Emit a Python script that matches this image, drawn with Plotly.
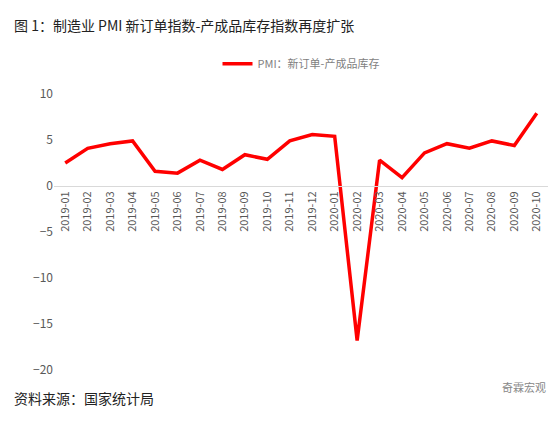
import plotly.graph_objects as go

months = ["2019-01", "2019-02", "2019-03", "2019-04", "2019-05", "2019-06", "2019-07", "2019-08",
          "2019-09", "2019-10", "2019-11", "2019-12", "2020-01", "2020-02", "2020-03", "2020-04",
          "2020-05", "2020-06", "2020-07", "2020-08", "2020-09", "2020-10"]
spread = [2.5, 4.1, 4.6, 4.9, 1.6, 1.4, 2.8, 1.8, 3.4, 2.9, 4.9, 5.6,
          5.4, -16.8, 2.8, 0.9, 3.6, 4.6, 4.1, 4.9, 4.4, 7.9]
y_ticks = [10, 5, 0, -5, -10, -15, -20]

font_cn = "Noto Sans CJK SC"
y_min, y_max = -20, 10
zero_pos = (0 - y_min) / (y_max - y_min)

fig = go.Figure()
fig.add_trace(go.Scatter(
    x=months, y=spread, mode="lines", name="PMI：新订单-产成品库存",
    line=dict(color="#ff0000", width=3.5),
))

fig.update_layout(
    width=558, height=426,
    margin=dict(l=46, r=18, t=86, b=64),
    plot_bgcolor="white", paper_bgcolor="white",
    font=dict(family=font_cn, size=11, color="#595959"),
    showlegend=True,
    legend=dict(orientation="h", x=0.5, xanchor="center", y=1.11, yanchor="middle",
                font=dict(size=11, color="#7f7f7f")),
    xaxis=dict(type="category", range=[-0.5, 21.5], anchor="free", position=zero_pos, tickangle=-90,
               showgrid=False, showline=True, linecolor="#d9d9d9", ticks="",
               tickfont=dict(size=11, color="#595959")),
    yaxis=dict(range=[y_min, y_max], tickvals=y_ticks, showgrid=False,
               zeroline=False, showline=False, tickfont=dict(size=12, color="#595959")),
)

fig.add_annotation(xref="paper", yref="paper", x=-0.085, y=1.25, xanchor="left", yanchor="middle",
                   text="图 1：制造业 PMI 新订单指数-产成品库存指数再度扩张", showarrow=False,
                   font=dict(family=font_cn, size=14, color="#222222"))
fig.add_annotation(xref="paper", yref="paper", x=-0.085, y=-0.1, xanchor="left", yanchor="middle",
                   text="资料来源：国家统计局", showarrow=False,
                   font=dict(family=font_cn, size=14, color="#222222"))
fig.add_annotation(xref="paper", yref="paper", x=1.0, y=-0.06, xanchor="right", yanchor="middle",
                   text="奇霖宏观", showarrow=False,
                   font=dict(family=font_cn, size=11, color="#888888"))

fig.write_html("out.html")
